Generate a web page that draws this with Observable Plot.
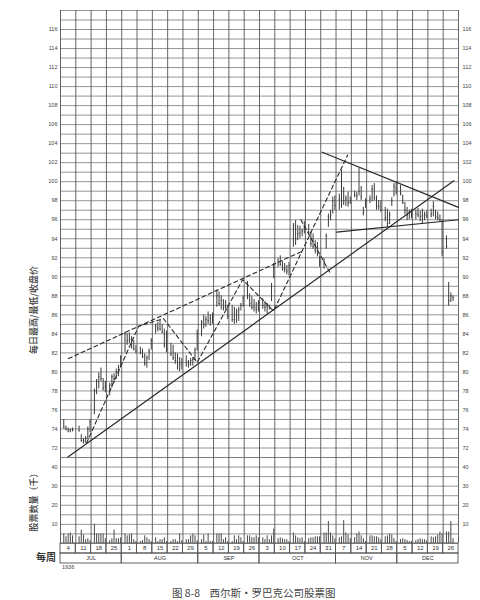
<!DOCTYPE html>
<html><head><meta charset="utf-8">
<script src="https://cdn.jsdelivr.net/npm/d3@7"></script>
<script src="https://cdn.jsdelivr.net/npm/@observablehq/plot@0.6"></script>
<style>
body{margin:0;background:#fff;width:480px;height:600px;position:relative;overflow:hidden;font-family:"Liberation Sans",Arial,sans-serif}
.abs{position:absolute}
.cjk{font-family:"Noto Sans CJK SC",sans-serif;color:#3a3a3a;white-space:nowrap}
.rot{transform:translate(-50%,-50%) rotate(-90deg);transform-origin:center}
svg{overflow:visible}
</style></head><body>
<div id="price" class="abs" style="left:0;top:0"></div>
<div id="vol" class="abs" style="left:0;top:457px"></div>
<div id="rows" class="abs" style="left:0;top:543px"></div>
<div class="abs cjk rot" style="left:33px;top:310px;font-size:9px;font-weight:500">每日最高/最低/收盘价</div>
<div class="abs cjk rot" style="left:33px;top:500px;font-size:9px;font-weight:500">股票数量（千）</div>
<div class="abs cjk" style="left:36px;top:549px;font-size:10px;font-weight:700">每周</div>
<div class="abs" style="left:62px;top:564px;font-size:5.5px;color:#444">1936</div>
<div class="abs cjk" style="left:172px;top:585px;font-size:10.5px;color:#444">图 8-8&nbsp;&nbsp;&nbsp;&nbsp;西尔斯・罗巴克公司股票图</div>
<script>
// ---- data ----
const weekLabels = ["4","11","18","25","1","8","15","22","29","5","12","19","26","3","10","17","24","31","7","14","21","28","5","12","19","26"];
const months = ["JUL","AUG","SEP","OCT","NOV","DEC"];
const monthWeeks = [4,5,4,5,4,4];
const priceTicks = [72,74,76,78,80,82,84,86,88,90,92,94,96,98,100,102,104,106,108,110,112,114,116];
const volumeTicks = [10,20,30,40];

// daily highs / lows / closes, one inner array per week (Mon..Sat)
const highs = [
 [75.0,74.3,74.1,74.0,74.1],
 [74.3,73.4,73.0,73.2,74.2,75.0],
 [78.2,79.2,79.9,80.4,79.3,79.0],
 [78.8,79.7,79.8,80.3,80.7,81.7],
 [84.2,84.0,84.1,83.7,83.3,82.8],
 [82.6,82.4,81.9,81.7,82.4,83.5],
 [85.0,85.2,85.4,85.0,84.5,84.3],
 [83.0,82.8,82.0,81.9,81.5,81.4],
 [81.7,81.2,81.4,81.5,82.5,84.4],
 [85.4,86.0,85.8,86.3,86.0,86.2],
 [88.6,88.4,88.0,87.6,87.5,87.0],
 [87.0,86.8,86.6,86.8,87.2,88.0],
 [89.5,88.2,87.9,87.6,87.3,87.5],
 [87.7,87.4,87.2,87.0,89.3,91.4],
 [91.9,92.2,91.6,91.4,91.2,91.5],
 [95.6,95.9,95.4,95.3,95.0,95.8],
 [95.5,94.7,94.5,93.8,93.6,92.2],
 [91.9,94.5,96.6,97.0,98.4,98.5],
 [98.7,101.2,99.4,98.5,98.9,98.4],
 [99.0,98.9,101.4,99.5,97.3,98.2],
 [98.5,99.6,99.8,98.5,98.0,98.0],
 [97.3,97.1,96.8,98.3,99.8,100.0],
 [99.6,98.6,97.8,97.3,97.0,97.1],
 [97.0,97.2,96.9,97.1,96.8,96.9],
 [97.1,97.9,97.0,96.8,96.5,96.0],
 [94.3,89.4,88.3,88.0]
];
const lows = [
 [74.0,73.8,73.6,73.6,73.7],
 [73.7,72.6,72.4,72.5,72.9,73.6],
 [75.5,77.6,78.2,79.0,78.0,77.8],
 [77.5,78.3,78.8,79.2,79.5,80.4],
 [82.0,82.8,83.0,82.4,82.2,81.9],
 [81.8,81.4,80.6,80.4,81.2,82.3],
 [84.0,84.2,84.3,84.0,82.5,82.0],
 [81.6,81.2,80.8,80.2,80.0,80.2],
 [80.5,80.4,80.6,80.6,81.2,82.2],
 [83.7,84.5,84.7,85.0,84.8,85.0],
 [86.8,86.9,86.5,86.4,86.5,85.5],
 [85.2,85.0,85.1,85.3,86.4,86.8],
 [87.6,86.8,86.5,86.3,86.1,86.3],
 [86.6,86.3,86.1,86.5,87.4,89.8],
 [91.0,91.1,90.6,90.4,90.2,90.1],
 [93.1,93.3,93.8,94.0,94.2,94.5],
 [94.4,93.1,92.9,92.4,92.1,91.0],
 [90.8,92.9,95.2,95.9,96.6,97.0],
 [97.0,97.2,97.5,97.4,97.3,97.6],
 [98.3,98.0,98.5,98.0,96.4,97.2],
 [97.7,97.9,98.0,97.0,97.0,96.8],
 [95.8,95.2,95.5,97.4,98.4,98.6],
 [98.5,97.6,96.5,95.9,96.0,96.1],
 [96.0,96.2,95.8,95.6,95.9,96.1],
 [96.2,96.3,96.0,95.9,95.8,92.1],
 [92.9,86.9,87.3,87.4]
];
const closes = [
 [74.2,74.0,73.8,73.9,73.9],
 [73.8,72.8,72.8,73.0,74.0,74.8],
 [78.0,79.0,79.5,79.3,78.3,78.5],
 [78.6,79.5,79.3,80.0,80.5,81.5],
 [84.0,83.3,83.4,82.6,82.4,82.2],
 [82.0,81.6,80.9,81.5,82.2,83.3],
 [84.8,84.6,84.5,84.2,82.8,82.4],
 [81.9,81.5,81.2,80.6,80.8,81.0],
 [81.0,80.8,81.2,81.3,82.3,84.0],
 [85.2,85.0,85.5,85.4,85.6,86.0],
 [88.0,87.2,87.5,86.8,86.8,85.8],
 [85.5,85.5,86.3,86.5,87.0,87.8],
 [88.0,87.2,86.8,86.8,86.6,87.2],
 [87.0,86.8,86.9,86.9,89.0,91.0],
 [91.5,91.3,90.8,90.8,90.6,91.2],
 [95.4,94.0,94.5,94.6,94.8,95.2],
 [94.6,93.5,93.2,92.8,92.4,91.5],
 [91.6,94.3,96.3,96.5,98.0,97.5],
 [98.2,98.0,98.0,98.2,97.8,98.0],
 [98.6,98.5,99.0,98.4,96.8,98.0],
 [98.2,99.2,98.3,97.4,97.4,97.0],
 [96.2,95.6,96.5,98.0,99.5,99.3],
 [98.8,97.8,97.0,96.5,96.8,96.6],
 [96.6,96.5,96.3,96.4,96.5,96.4],
 [96.6,97.4,96.3,96.2,96.0,92.6],
 [93.2,87.5,88.0,87.8]
];
// daily volume, thousands of shares
const volumes = [
 [5,3.5,5,5.5,4],
 [3.5,7,4.5,2,2.5,1.5],
 [10,5,5,5,5,2.5],
 [1.5,2.5,7,2.5,2.5,3],
 [5,4,4.5,5,2,1],
 [1,1.5,4,3,2,1],
 [3,1,2,2,3,1],
 [1,2,2,1,5,1.5],
 [2,2,4,5,4,1.5],
 [2,4.5,1,5,1,1],
 [5,5,5,2,3,1],
 [1,4,2,4,3,1],
 [4,4,3,3,4,3],
 [3,2,4,2,4,7.5],
 [2.5,3,2.5,2,2,1],
 [5.5,4,3,2.5,3,1],
 [2.5,3,3,3.5,3.5,3.5],
 [5.5,5.5,11.5,5.5,4,2.5],
 [3,3.5,12,5.5,4.5,2.5],
 [3,5,6,4,2.5,1],
 [4,4,3.5,3.5,3,2],
 [3.5,4,5,4.5,2.5,1],
 [2,2.5,2,1.5,1,1],
 [1.5,2,2.5,2,2,1.5],
 [3.5,3,3.5,4.5,6,5],
 [6,6,11.5,2.5]
];
// hand-drawn trend lines (week index, price)
const upTrend = [{w:0.44,p:71.0},{w:25.7,p:100.1}];
const triangleTop = [{w:17.1,p:103.1},{w:26,p:97.3}];
const triangleBottom = [{w:18.04,p:94.7},{w:26,p:96.0}];
const channelTop = [{w:0.52,p:81.4},{w:15.8,p:92.7}];
const zigzag = [{w:1.70,p:72.5},{w:5.10,p:84.8},{w:6.73,p:85.6},{w:8.93,p:81.0},{w:11.9,p:89.7},{w:13.92,p:86.4},{w:18.76,p:102.8}];
const octDrop = [{w:15.7,p:96.0},{w:17.58,p:90.5}];

// ---- build tables ----
const bars = [];
highs.forEach((wk, w) => wk.forEach((h, d) => bars.push({
  x: w + (d + 1.5) / 7, high: h, low: lows[w][d], close: closes[w][d], vol: volumes[w][d]
})));
const weeks = weekLabels.map((l, i) => ({i, l}));
let acc = 0;
const monthRows = months.map((m, k) => { const r = {m, start: acc, end: acc + monthWeeks[k]}; acc += monthWeeks[k]; return r; });

const font = "Liberation Sans, Arial, sans-serif";
const common = {width: 480, marginLeft: 60, marginRight: 22, marginTop: 0, marginBottom: 0,
  x: {domain: [0, 26], axis: null}, style: {fontFamily: font, fontSize: "5.5px", color: "#444", background: "transparent"}};
const gridC = "#7a7a7a", vgridC = "#555", ink = "#3c3c3c", lineC = "#2a2a2a";

const pricePlot = Plot.plot({
  ...common, height: 457, marginTop: 10,
  y: {domain: [71, 118], axis: null},
  marks: [
    Plot.ruleY(d3.range(71, 119), {stroke: gridC, strokeWidth: 0.8}),
    Plot.ruleX(d3.range(0, 27), {stroke: vgridC, strokeWidth: 0.9}),
    Plot.axisY({anchor: "left", ticks: priceTicks, tickSize: 0, tickPadding: 3, label: null}),
    Plot.axisY({anchor: "right", ticks: priceTicks, tickSize: 0, tickPadding: 4, label: null}),
    Plot.ruleX(bars, {x: "x", y1: "low", y2: "high", stroke: ink, strokeWidth: 1}),
    Plot.ruleY(bars, {y: "close", x1: "x", x2: d => d.x + 0.09, stroke: ink, strokeWidth: 0.8}),
    Plot.line(upTrend, {x: "w", y: "p", stroke: lineC, strokeWidth: 1.2}),
    Plot.line(triangleTop, {x: "w", y: "p", stroke: lineC, strokeWidth: 1.2}),
    Plot.line(triangleBottom, {x: "w", y: "p", stroke: lineC, strokeWidth: 1.2}),
    Plot.line(channelTop, {x: "w", y: "p", stroke: lineC, strokeWidth: 1.1, strokeDasharray: "4,3"}),
    Plot.line(zigzag, {x: "w", y: "p", stroke: lineC, strokeWidth: 1.1, strokeDasharray: "4,3"}),
    Plot.line(octDrop, {x: "w", y: "p", stroke: lineC, strokeWidth: 1.1, strokeDasharray: "4,3"})
  ]
});
document.getElementById("price").append(pricePlot);

const volPlot = Plot.plot({
  ...common, height: 86,
  y: {domain: [0, 45], axis: null},
  marks: [
    Plot.ruleY(d3.range(0, 46, 5), {stroke: gridC, strokeWidth: 0.8}),
    Plot.ruleX(d3.range(0, 27), {stroke: vgridC, strokeWidth: 0.9}),
    Plot.axisY({anchor: "left", ticks: volumeTicks, tickSize: 0, tickPadding: 3, label: null}),
    Plot.axisY({anchor: "right", ticks: volumeTicks, tickSize: 0, tickPadding: 4, label: null}),
    Plot.ruleX(bars, {x: "x", y1: 0, y2: "vol", stroke: "#4a4a4a", strokeWidth: 1})
  ]
});
document.getElementById("vol").append(volPlot);

const rowsPlot = Plot.plot({
  ...common, height: 20,
  y: {type: "band", domain: ["week", "month"], padding: 0, axis: null},
  marks: [
    Plot.barX(weeks, {x1: "i", x2: d => d.i + 1, y: () => "week", fill: "none", stroke: vgridC, strokeWidth: 0.9}),
    Plot.barX(monthRows, {x1: "start", x2: "end", y: () => "month", fill: "none", stroke: vgridC, strokeWidth: 0.9}),
    Plot.text(weeks, {x: d => d.i + 0.5, y: () => "week", text: "l", fontSize: 6, fill: "#333"}),
    Plot.text(monthRows, {x: d => (d.start + d.end) / 2, y: () => "month", text: "m", fontSize: 5.5, fill: "#333"})
  ]
});
document.getElementById("rows").append(rowsPlot);
</script>
</body></html>
